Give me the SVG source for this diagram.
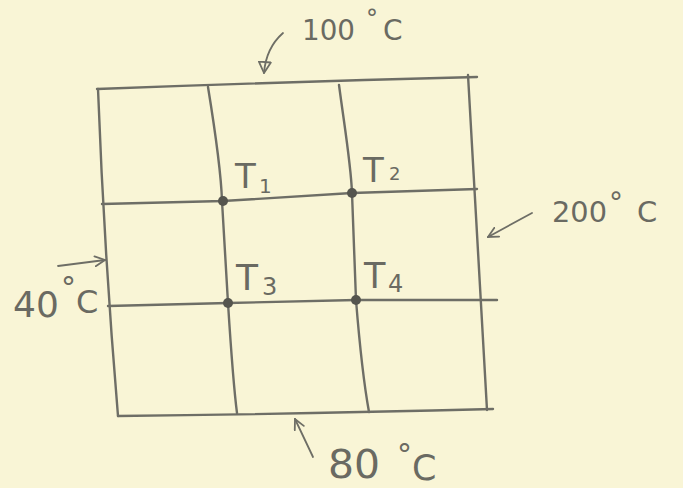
<svg xmlns="http://www.w3.org/2000/svg" width="683" height="488" viewBox="0 0 683 488">
<style>
.ln{fill:none;stroke:#6e6e66;stroke-width:2.4;stroke-linecap:round;stroke-linejoin:round}
.ar{fill:none;stroke:#6e6e66;stroke-width:1.8;stroke-linecap:round}
.dot{fill:#55554e}
text{font-family:"DejaVu Sans","Liberation Sans",sans-serif;fill:#6a6a62;font-weight:normal}
</style>
<defs>
<marker id="v" viewBox="0 0 12 12" refX="11" refY="6" markerWidth="12" markerHeight="12" markerUnits="userSpaceOnUse" orient="auto">
<path d="M1,1 L11,6 L1,11" fill="none" stroke="#6e6e66" stroke-width="1.8" stroke-linecap="round"/>
</marker>
<marker id="tri" viewBox="0 0 14 14" refX="12" refY="7" markerWidth="14" markerHeight="14" markerUnits="userSpaceOnUse" orient="auto">
<path d="M1,1 L12,7 L1,13 Z" fill="none" stroke="#6e6e66" stroke-width="1.8" stroke-linejoin="round"/>
</marker>
</defs>
<rect width="683" height="488" fill="#f9f5d6"/>
<g id="grid">
<path class="ln" d="M97,89 Q280,82 477,77"/>
<path class="ln" d="M468,75 Q478,240 487,410"/>
<path class="ln" d="M118,416 Q300,414 493,409"/>
<path class="ln" d="M98,89 Q104,250 118,416"/>
<path class="ln" d="M208,87 C215,130 221,170 222,201 L228,303 C231,350 234,390 237,413"/>
<path class="ln" d="M339,85 C345,130 351,165 352,193 L356,300 C360,350 365,390 369,412"/>
<path class="ln" d="M102,204 L223,201 L352,193 L477,189"/>
<path class="ln" d="M108,306 L228,303 L356,300 L497,300"/>
</g>
<g id="T1"><circle class="dot" cx="223" cy="201" r="5"/><text x="235" y="188" font-size="34">T<tspan x="259" y="193" font-size="20">1</tspan></text></g>
<g id="T2"><circle class="dot" cx="352" cy="193" r="5"/><text x="363" y="182" font-size="34">T<tspan x="389" y="180" font-size="18">2</tspan></text></g>
<g id="T3"><circle class="dot" cx="228" cy="303" r="5"/><text x="236" y="290" font-size="36">T<tspan x="262" y="295" font-size="24">3</tspan></text></g>
<g id="T4"><circle class="dot" cx="356" cy="300" r="5"/><text x="364" y="288" font-size="35">T<tspan x="388" y="292" font-size="24">4</tspan></text></g>
<g id="labels">
<text x="302" y="40" font-size="28"><tspan textLength="53" lengthAdjust="spacingAndGlyphs">100</tspan><tspan x="366" y="27" font-size="24">°</tspan><tspan x="383" y="40">C</tspan></text>
<text x="552" y="222" font-size="29"><tspan textLength="55" lengthAdjust="spacingAndGlyphs">200</tspan><tspan x="609" y="212" font-size="28">°</tspan><tspan x="637" y="222">C</tspan></text>
<text x="13" y="317" font-size="36">40<tspan x="61" y="298" font-size="30">°</tspan><tspan x="76" y="313" font-size="32">C</tspan></text>
<text x="328" y="478" font-size="39"><tspan textLength="52" lengthAdjust="spacingAndGlyphs">80</tspan><tspan x="397" y="465" font-size="30">°</tspan><tspan x="412" y="480" font-size="35">C</tspan></text>
</g>
<g id="connectors">
<path class="ar" d="M283,33 Q266,48 264,73" marker-end="url(#tri)"/>
<path class="ar" d="M58,266 L105,260" marker-end="url(#v)"/>
<path class="ar" d="M532,213 L488,237" marker-end="url(#v)"/>
<path class="ar" d="M313,457 L295,419" marker-end="url(#v)"/>
</g>
</svg>
